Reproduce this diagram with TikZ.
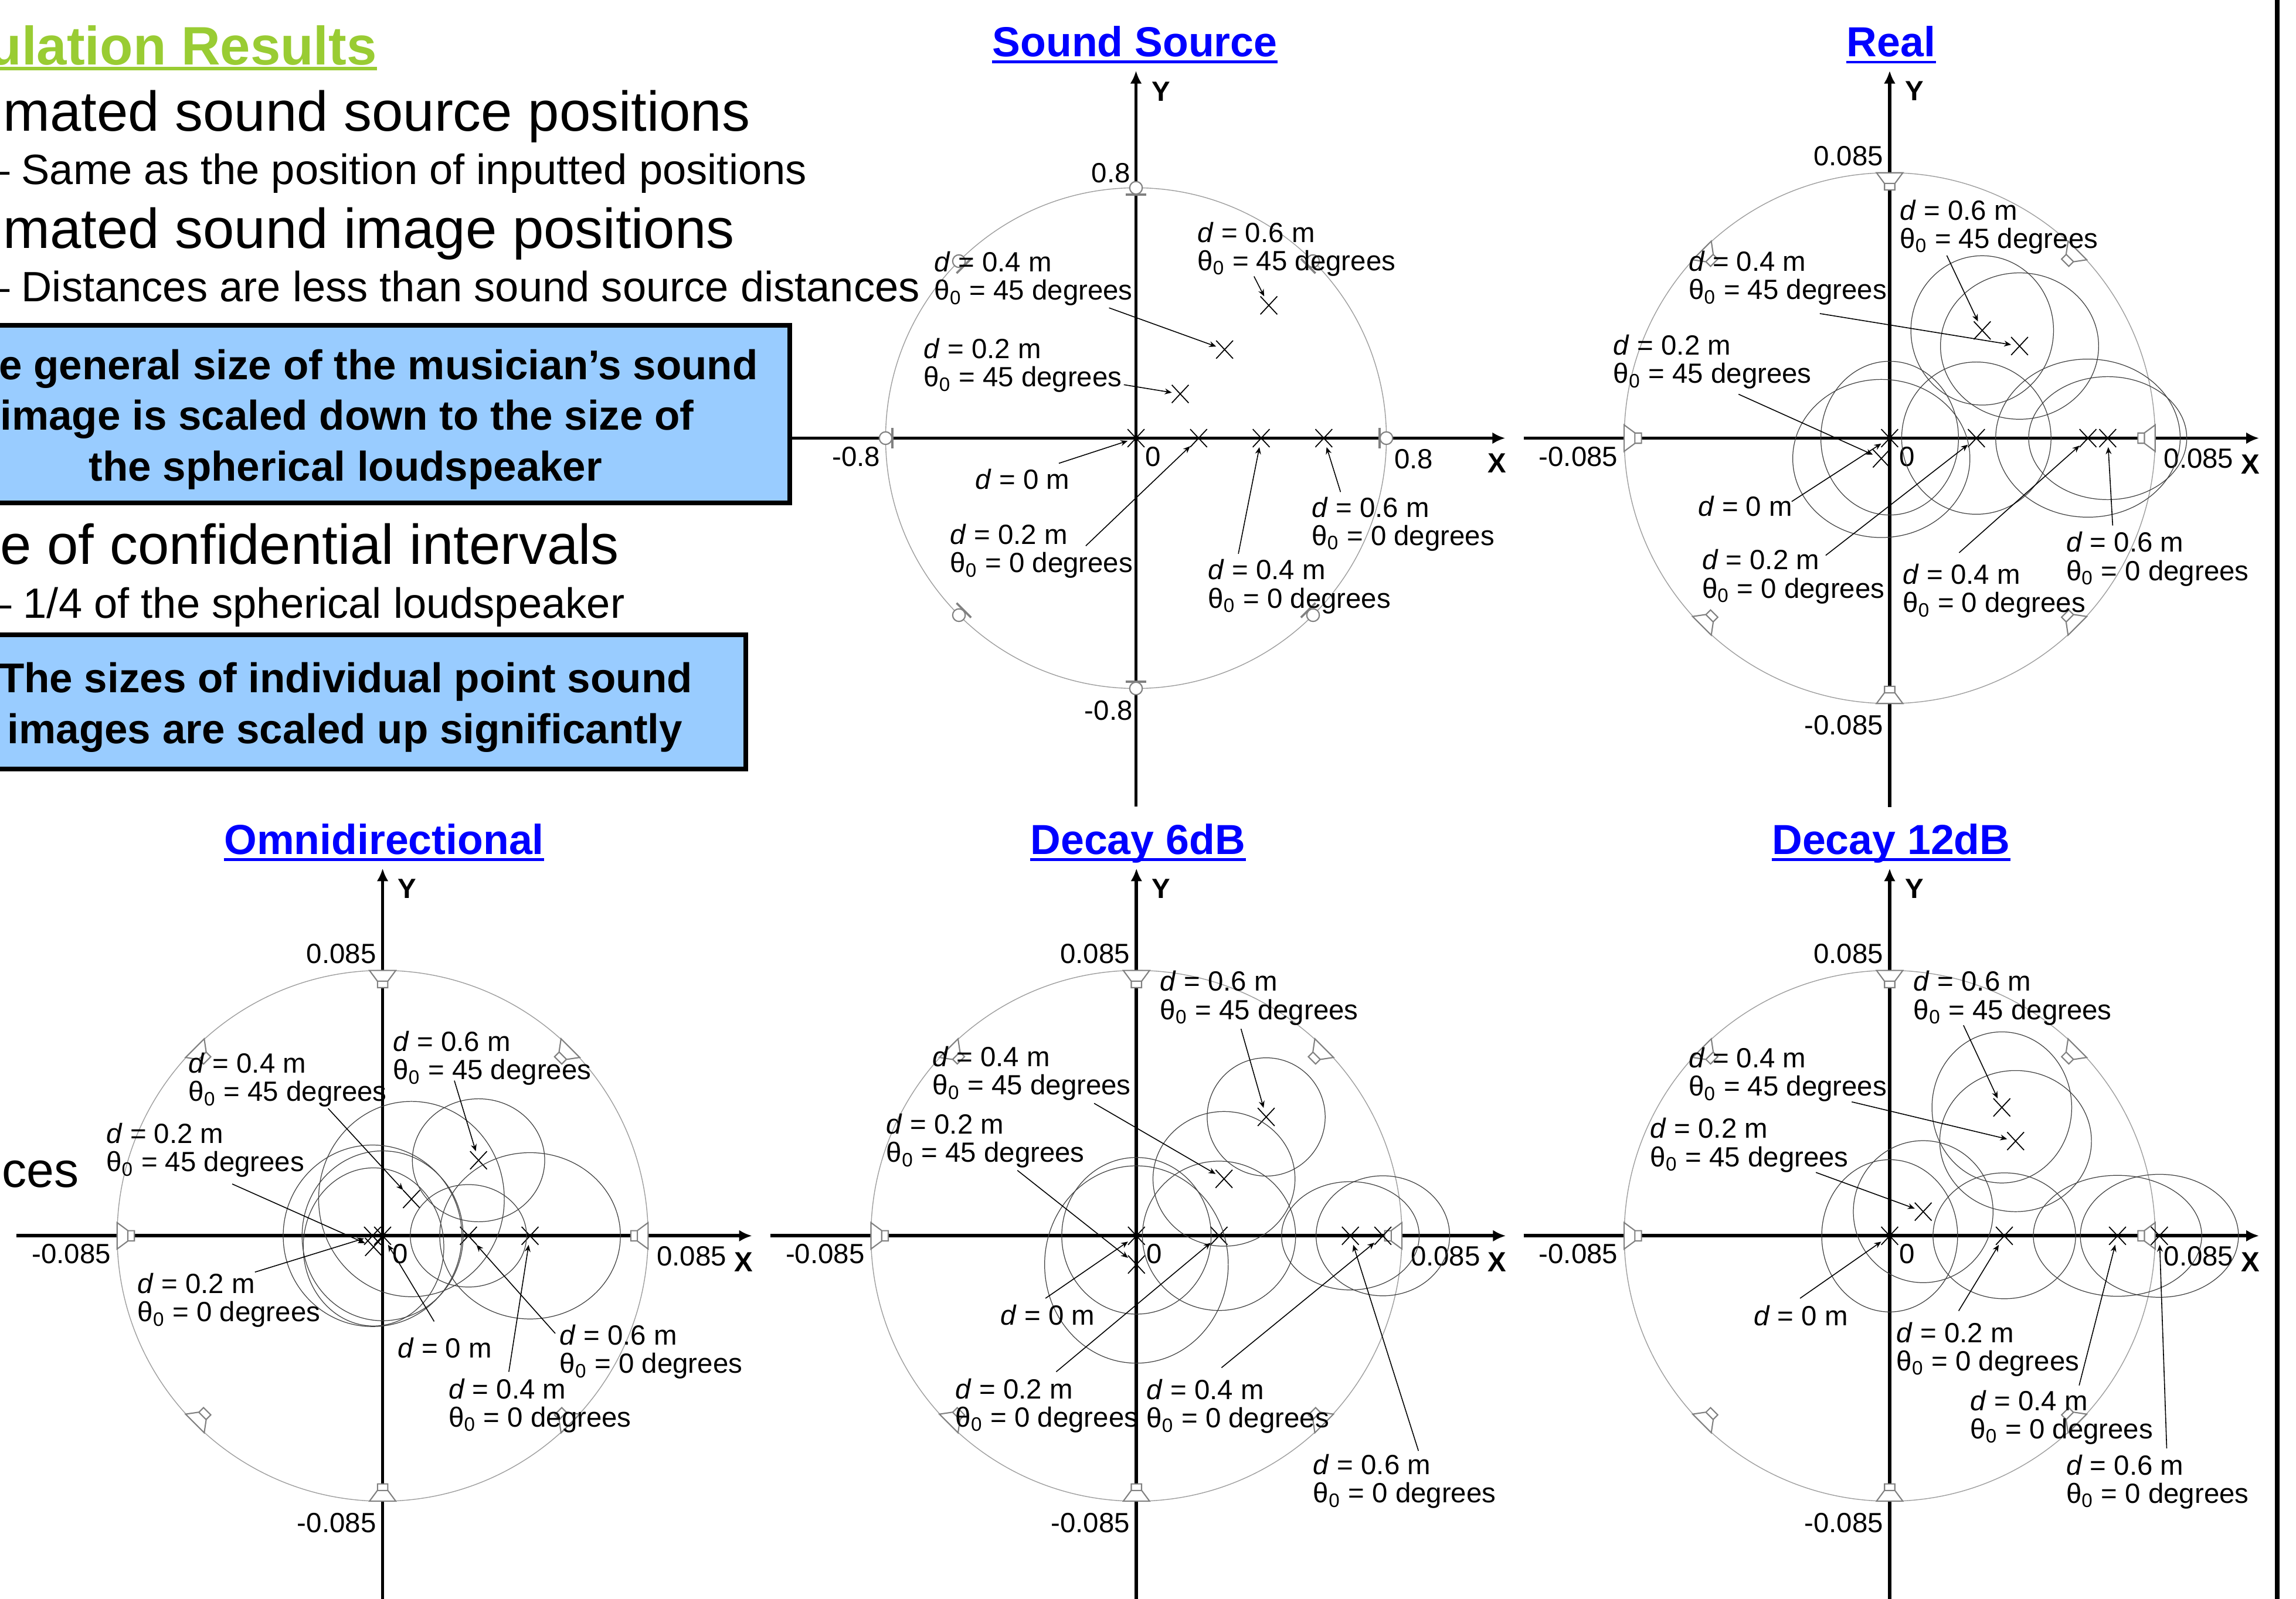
\documentclass[tikz,border=0pt]{standalone}
\usepackage{fontspec}
\setmainfont{Liberation Sans}
\usepackage{xcolor}
\usepackage{tikz}
\usetikzlibrary{arrows.meta,shapes.misc}

\definecolor{boxblue}{RGB}{153,204,255}
\definecolor{simgreen}{RGB}{153,204,51}
\newcommand{\labsize}{\fontsize{13.5}{13.7}\selectfont}
\newcommand{\dval}[1]{\textit{d} = #1 m}
\newcommand{\tval}[1]{θ\textsubscript{0} = #1 degrees}

\begin{document}
\begin{tikzpicture}[
    x=0.025cm, y=-0.025cm,
    axline/.style={line width=1.65pt, -{Latex[length=2.2mm,width=2mm]}},
    ring/.style={draw=black!38, line width=0.4pt},
    conf/.style={draw=black!75, line width=0.35pt},
    spk/.style={draw=black!50, fill=white, line width=0.6pt},
    img/.style={draw, cross out, minimum width=2.7mm, minimum height=2.9mm, inner sep=0pt, line width=0.5pt},
    ptr/.style={-{Stealth[length=1.2mm,width=1mm]}, line width=0.45pt},
    lab/.style={anchor=west, align=left, inner sep=0pt, font=\labsize},
    tlab/.style={inner sep=0pt, font=\labsize},
    axlab/.style={inner sep=0pt, anchor=west, font=\bfseries\labsize},
    ttl/.style={inner sep=0pt, anchor=base, text=blue, font=\bfseries\fontsize{20.4}{24}\selectfont},
    bullet/.style={anchor=base west, inner sep=0pt, font=\fontsize{27.3}{32}\selectfont},
    subbullet/.style={anchor=base west, inner sep=0pt, font=\fontsize{20.6}{24}\selectfont},
    infobox/.style={draw, line width=2.3pt, fill=boxblue},
    boxtext/.style={anchor=base west, inner sep=0pt, font=\bfseries\fontsize{20.2}{24}\selectfont}
]
\useasboundingbox (0,0) rectangle (1568,1092);

% sound source panel
\begin{scope}[shift={(775.8,299.3)}]
    \draw[axline] (-250,0) -- (252.2,0);
    \draw[axline] (0,251.7) -- (0,-251);
    \draw[ring] (0,0) circle (171);
    \foreach \a in {0,45,...,315}{
        \draw[spk, line width=1pt, rotate=\a] (166.3,-7) -- (166.3,7);
        \draw[spk, rotate=\a] (171,0) circle (4.3);
    }
    \node[tlab, anchor=east] (ss-top) at (-3.7,-181.3) {0.8};
    \node[tlab, anchor=east] (ss-bot) at (-2.1,185.9) {-0.8};
    \node[tlab, anchor=east] (ss-left) at (-174.4,12.7) {-0.8};
    \node[tlab, anchor=west] (ss-right) at (176.2,14.3) {0.8};
    \node[tlab, anchor=west] (ss-zero) at (6.1,12.5) {0};
    \node[axlab] (ss-x) at (240,17.2) {X};
    \node[axlab] (ss-y) at (10.7,-236.7) {Y};
    \node[ttl] (ss-title) at (-0.8,-260.7) {Sound Source};
    \draw[blue, line width=1.4pt] ([yshift=-2.6pt]ss-title.base west) -- ([yshift=-2.6pt]ss-title.base east);

    \node[img] (ss0) at (0,0) {};
    \node[img] (ss1) at (42.75,0) {};
    \node[img] (ss2) at (85.5,0) {};
    \node[img] (ss3) at (128.25,0) {};
    \node[img] (ss4) at (30.2,-30.2) {};
    \node[img] (ss5) at (60.5,-60.5) {};
    \node[img] (ss6) at (90.7,-90.7) {};

    \node[lab] (ssL6) at (41.7,-129.2) {\dval{0.6}\\\tval{45}};
    \node[lab] (ssL5) at (-137.9,-109) {\dval{0.4}\\\tval{45}};
    \node[lab] (ssL4) at (-145.2,-49.7) {\dval{0.2}\\\tval{45}};
    \node[lab] (ssL0) at (-110,27.9) {\dval{0}};
    \node[lab] (ssL1) at (-127.2,77.3) {\dval{0.2}\\\tval{0}};
    \node[lab] (ssL2) at (49,101.4) {\dval{0.4}\\\tval{0}};
    \node[lab] (ssL3) at (119.8,58.7) {\dval{0.6}\\\tval{0}};

    \draw[ptr] (80.6,-110.5) coordinate (ssT6) -- (ss6);
    \draw[ptr] (-18.4,-89) coordinate (ssT5) -- (ss5);
    \draw[ptr] (-8.3,-36.5) coordinate (ssT4) -- (ss4);
    \draw[ptr] (-52.7,17.2) coordinate (ssT0) -- (ss0);
    \draw[ptr] (-34.3,73.6) coordinate (ssT1) -- (ss1);
    \draw[ptr] (69.9,79) coordinate (ssT2) -- (ss2);
    \draw[ptr] (139.7,36.8) coordinate (ssT3) -- (ss3);
\end{scope}

% loudspeaker panels
\foreach \p/\px/\py/\ptitle in {re/1290.5/299.3/Real, om/261.3/844.2/Omnidirectional, ds/776.1/844.2/Decay 6dB, dt/1290.5/844.2/Decay 12dB}{
    \begin{scope}[shift={(\px,\py)}]
        \draw[axline] (-250,0) -- (252.3,0);
        \draw[axline] (0,252) -- (0,-251);
        \draw[ring] (0,0) circle (181.3);
        \foreach \a in {0,45,...,315}
            \draw[spk, rotate=\a] (181.3,-9) -- (181.3,9) -- (174,3.6) -- (174,-3.6) -- cycle
                (174,-3.5) rectangle (169.5,3.5);
        \node[tlab, anchor=east] (\p-top) at (-4.2,-192.6) {0.085};
        \node[tlab, anchor=east] (\p-bot) at (-4.2,196.1) {-0.085};
        \node[tlab, anchor=west] (\p-left) at (-239.8,12.5) {-0.085};
        \node[tlab, anchor=west] (\p-right) at (187,14) {0.085};
        \node[tlab, anchor=west] (\p-zero) at (6.5,12.5) {0};
        \node[axlab] (\p-x) at (239.8,18) {X};
        \node[axlab] (\p-y) at (10.2,-237) {Y};
        \node[ttl] (\p-title) at (1,-260.5) {\ptitle};
        \draw[blue, line width=1.4pt] ([yshift=-2.6pt]\p-title.base west) -- ([yshift=-2.6pt]\p-title.base east);
    \end{scope}
}

% real
\begin{scope}[shift={(1290.5,299.3)}]
    \node[img] (re0) at (0,0) {};
    \node[img] (re1) at (-5.7,13.9) {};
    \node[img] (re2) at (59.2,0) {};
    \node[img] (re3) at (135.4,0) {};
    \node[img] (re4) at (148.9,0) {};
    \node[img] (re5) at (63.2,-73.6) {};
    \node[img] (re6) at (88.7,-62.9) {};
    \foreach \m/\rx/\ry in {re0/47/52.5, re1/60.5/54, re2/51/52, re3/63/54, re4/54/42, re5/48.7/51, re6/54/50}
        \draw[conf] (\m) ellipse [x radius=\rx, y radius=\ry];

    \node[lab] (reL5) at (6.7,-144.4) {\dval{0.6}\\\tval{45}};
    \node[lab] (reL6) at (-137.5,-109.4) {\dval{0.4}\\\tval{45}};
    \node[lab] (reL1) at (-188.9,-52) {\dval{0.2}\\\tval{45}};
    \node[lab] (reL0) at (-131.1,46.5) {\dval{0}};
    \node[lab] (reL2) at (-128.4,94.6) {\dval{0.2}\\\tval{0}};
    \node[lab] (reL3) at (8.7,104.5) {\dval{0.4}\\\tval{0}};
    \node[lab] (reL4) at (120.3,82.6) {\dval{0.6}\\\tval{0}};

    \draw[ptr] (39,-124.8) coordinate (reT5) -- (re5);
    \draw[ptr] (-47.7,-85.1) coordinate (reT6) -- (re6);
    \draw[ptr] (-103.2,-30) coordinate (reT1) -- (re1);
    \draw[ptr] (-66.9,43.3) coordinate (reT0) -- (re0);
    \draw[ptr] (-43.7,80.1) coordinate (reT2) -- (re2);
    \draw[ptr] (47.4,78.3) coordinate (reT3) -- (re3);
    \draw[ptr] (152.3,59.7) coordinate (reT4) -- (re4);
\end{scope}

% omnidirectional
\begin{scope}[shift={(261.3,844.2)}]
    \node[img] (om0) at (0,0) {};
    \node[img] (om1) at (-6.9,0) {};
    \node[img] (om2) at (-6.2,7.6) {};
    \node[img] (om3) at (19.7,-25.1) {};
    \node[img] (om4) at (65.5,-51.6) {};
    \node[img] (om5) at (58.6,0) {};
    \node[img] (om6) at (100.7,0) {};
    \foreach \m/\rx/\ry in {om0/55/58, om1/61/62, om2/48/54, om3/63.4/66.7, om4/45.2/42, om5/39.7/35, om6/61.7/56.8}
        \draw[conf] (\m) ellipse [x radius=\rx, y radius=\ry];

    \node[lab] (omL4) at (6.9,-121.4) {\dval{0.6}\\\tval{45}};
    \node[lab] (omL3) at (-132.7,-106.6) {\dval{0.4}\\\tval{45}};
    \node[lab] (omL2) at (-189,-58.4) {\dval{0.2}\\\tval{45}};
    \node[lab] (omL1) at (-167.6,44) {\dval{0.2}\\\tval{0}};
    \node[lab] (omL0) at (10,76.4) {\dval{0}};
    \node[lab] (omL5) at (120.7,79.3) {\dval{0.6}\\\tval{0}};
    \node[lab] (omL6) at (44.8,116) {\dval{0.4}\\\tval{0}};

    \draw[ptr] (49,-106) coordinate (omT4) -- (om4);
    \draw[ptr] (-37.2,-87) coordinate (omT3) -- (om3);
    \draw[ptr] (-102.7,-35.4) coordinate (omT2) -- (om2);
    \draw[ptr] (-87.2,24.8) coordinate (omT1) -- (om1);
    \draw[ptr] (35.2,58.5) coordinate (omT0) -- (om0);
    \draw[ptr] (117.9,66.7) coordinate (omT5) -- (om5);
    \draw[ptr] (86.2,92.9) coordinate (omT6) -- (om6);
\end{scope}

% decay 6dB
\begin{scope}[shift={(776.1,844.2)}]
    \node[img] (ds0) at (0,0) {};
    \node[img] (ds1) at (0,19.6) {};
    \node[img] (ds2) at (56.4,0) {};
    \node[img] (ds3) at (59.8,-38.9) {};
    \node[img] (ds4) at (88.6,-81.2) {};
    \node[img] (ds5) at (146.1,0) {};
    \node[img] (ds6) at (168.3,0) {};
    \foreach \m/\rx/\ry in {ds0/51/53.5, ds1/62.7/67.4, ds2/52.3/51, ds3/48.5/46, ds4/40.3/40.4, ds5/47/37, ds6/45.6/41}
        \draw[conf] (\m) ellipse [x radius=\rx, y radius=\ry];

    \node[lab] (dsL4) at (15.9,-162.4) {\dval{0.6}\\\tval{45}};
    \node[lab] (dsL3) at (-139.4,-110.9) {\dval{0.4}\\\tval{45}};
    \node[lab] (dsL1) at (-171,-64.9) {\dval{0.2}\\\tval{45}};
    \node[lab] (dsL0) at (-93,54) {\dval{0}};
    \node[lab] (dsL2) at (-123.8,115.9) {\dval{0.2}\\\tval{0}};
    \node[lab] (dsL6) at (6.6,116.6) {\dval{0.4}\\\tval{0}};
    \node[lab] (dsL5) at (120.5,167.8) {\dval{0.6}\\\tval{0}};

    \draw[ptr] (71.4,-141.4) coordinate (dsT4) -- (ds4);
    \draw[ptr] (-28.9,-90.5) coordinate (dsT3) -- (ds3);
    \draw[ptr] (-81.3,-44.7) coordinate (dsT1) -- (ds1);
    \draw[ptr] (-62.1,42.7) coordinate (dsT0) -- (ds0);
    \draw[ptr] (-54.8,92.9) coordinate (dsT2) -- (ds2);
    \draw[ptr] (58.1,90.1) coordinate (dsT6) -- (ds6);
    \draw[ptr] (192.6,146.9) coordinate (dsT5) -- (ds5);
\end{scope}

% decay 12dB
\begin{scope}[shift={(1290.5,844.2)}]
    \node[img] (dt0) at (0,0) {};
    \node[img] (dt1) at (22.9,-16.5) {};
    \node[img] (dt2) at (78.3,0) {};
    \node[img] (dt3) at (155.6,0) {};
    \node[img] (dt4) at (184.2,0) {};
    \node[img] (dt5) at (76.6,-87.7) {};
    \node[img] (dt6) at (86,-64.7) {};
    \foreach \m/\rx/\ry in {dt0/46.4/52, dt1/47.7/48.5, dt2/48.7/43, dt3/57.5/41.3, dt4/54/42, dt5/47.7/51.6, dt6/51.8/48.2}
        \draw[conf] (\m) ellipse [x radius=\rx, y radius=\ry];

    \node[lab] (dtL5) at (16.1,-162.4) {\dval{0.6}\\\tval{45}};
    \node[lab] (dtL6) at (-137.5,-110) {\dval{0.4}\\\tval{45}};
    \node[lab] (dtL1) at (-163.7,-61.9) {\dval{0.2}\\\tval{45}};
    \node[lab] (dtL0) at (-93.1,54.7) {\dval{0}};
    \node[lab] (dtL2) at (4.4,77.5) {\dval{0.2}\\\tval{0}};
    \node[lab] (dtL3) at (54.8,124) {\dval{0.4}\\\tval{0}};
    \node[lab] (dtL4) at (120.3,168) {\dval{0.6}\\\tval{0}};

    \draw[ptr] (50.4,-143.8) coordinate (dtT5) -- (dt5);
    \draw[ptr] (-25.9,-91.5) coordinate (dtT6) -- (dt6);
    \draw[ptr] (-50.4,-43.3) coordinate (dtT1) -- (dt1);
    \draw[ptr] (-61.2,42.7) coordinate (dtT0) -- (dt0);
    \draw[ptr] (47.1,51.3) coordinate (dtT2) -- (dt2);
    \draw[ptr] (129.4,102.2) coordinate (dtT3) -- (dt3);
    \draw[ptr] (189.2,145.2) coordinate (dtT4) -- (dt4);
\end{scope}

% left column
\node[anchor=base west, inner sep=0pt, text=simgreen, font=\bfseries\fontsize{26.3}{30}\selectfont] (simtitle) at (-8,44.1) {ulation Results};
\draw[simgreen, line width=1.8pt] ([yshift=-1.9pt]simtitle.base west) -- ([yshift=-1.9pt]simtitle.base east);
\node[bullet] (est1) at (2,89.6) {mated sound source positions};
\node[subbullet] (sub1) at (-9.7,125.9) {– Same as the position of inputted positions};
\node[bullet] (est2) at (2,169.6) {mated sound image positions};
\node[subbullet] (sub2) at (-9.7,206.2) {– Distances are less than sound source distances};
\draw[infobox] (-20,222.4) rectangle (539.5,343.5);
\node[boxtext] (b1l1) at (-1,259.3) {e general size of the musician’s sound};
\node[boxtext] (b1l2) at (0,293.8) {image is scaled down to the size of};
\node[boxtext] (b1l3) at (60.5,328.6) {the spherical loudspeaker};
\node[bullet] (est3) at (0,385.5) {e of confidential intervals};
\node[subbullet] (sub3) at (-8.5,422.4) {– 1/4 of the spherical loudspeaker};
\draw[infobox] (-20,433.8) rectangle (509.5,525.5);
\node[boxtext] (b2l1) at (-1,473) {The sizes of individual point sound};
\node[boxtext] (b2l2) at (4.9,507.9) {images are scaled up significantly};
\node[anchor=base west, inner sep=0pt, font=\fontsize{24}{28}\selectfont] (tailtext) at (1,811) {ces};

\draw[line width=2.2pt] (1555.2,-10) -- (1555.2,1102);
\end{tikzpicture}
\end{document}
